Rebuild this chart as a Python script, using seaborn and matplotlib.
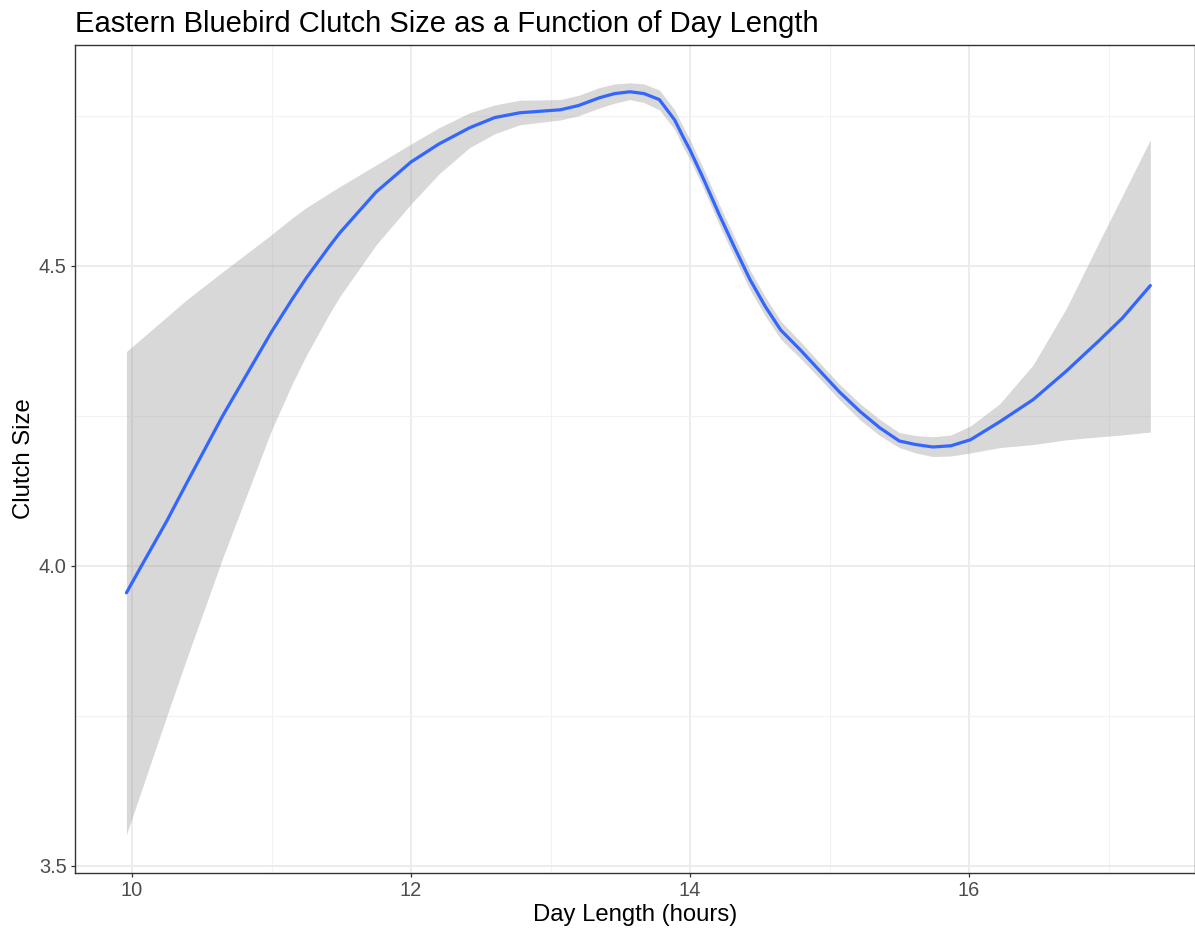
import matplotlib
matplotlib.use("Agg")
import matplotlib.pyplot as plt
import seaborn as sns
import pandas as pd
from matplotlib.ticker import MultipleLocator

# Data (loess fit with confidence band)
day_length = [9.96, 10.08, 10.25, 10.39, 10.65, 11.0, 11.15, 11.25, 11.42, 11.49,
              11.75, 12.0, 12.2, 12.42, 12.6, 12.78, 13.07, 13.2, 13.35, 13.46,
              13.57, 13.67, 13.78, 13.89, 13.95, 14.0, 14.1, 14.21, 14.32, 14.43,
              14.54, 14.65, 14.79, 14.93, 15.07, 15.22, 15.36, 15.5, 15.62, 15.74,
              15.87, 16.01, 16.22, 16.46, 16.7, 16.94, 17.1, 17.3]
clutch_fit = [3.955, 4.005, 4.075, 4.137, 4.25, 4.39, 4.445, 4.48, 4.534, 4.555,
              4.623, 4.673, 4.703, 4.73, 4.747, 4.755, 4.76, 4.767, 4.78, 4.787,
              4.79, 4.787, 4.777, 4.743, 4.715, 4.693, 4.643, 4.585, 4.53, 4.477,
              4.432, 4.393, 4.36, 4.325, 4.29, 4.257, 4.23, 4.208, 4.202, 4.198,
              4.2, 4.21, 4.24, 4.277, 4.325, 4.377, 4.413, 4.467]
ci_upper = [4.357, 4.381, 4.415, 4.443, 4.49, 4.552, 4.58, 4.597, 4.622, 4.632,
            4.668, 4.703, 4.73, 4.755, 4.768, 4.776, 4.777, 4.784, 4.797, 4.803,
            4.805, 4.803, 4.793, 4.76, 4.732, 4.71, 4.66, 4.602, 4.547, 4.493,
            4.448, 4.408, 4.374, 4.338, 4.303, 4.27, 4.244, 4.222, 4.217, 4.215,
            4.218, 4.233, 4.27, 4.335, 4.43, 4.543, 4.617, 4.71]
ci_lower = [3.552, 3.634, 3.75, 3.844, 4.013, 4.226, 4.304, 4.351, 4.422, 4.449,
            4.535, 4.603, 4.653, 4.697, 4.72, 4.735, 4.743, 4.75, 4.763, 4.771,
            4.777, 4.772, 4.76, 4.727, 4.698, 4.677, 4.627, 4.568, 4.513, 4.46,
            4.416, 4.378, 4.346, 4.312, 4.277, 4.243, 4.217, 4.197, 4.188, 4.182,
            4.183, 4.188, 4.197, 4.202, 4.21, 4.215, 4.218, 4.223]

df = pd.DataFrame({"day": day_length, "fit": clutch_fit,
                   "lo": ci_lower, "hi": ci_upper})

sns.set_theme(style="white")
plt.rcParams["font.family"] = ["Liberation Sans", "DejaVu Sans"]

fig = plt.figure(figsize=(11.95, 9.33), dpi=100)
ax = fig.add_axes([0.0625, 0.0643, 0.9375, 0.8875])

ax.fill_between(df["day"], df["lo"], df["hi"], color="#999999", alpha=0.38,
                linewidth=0, zorder=2)
sns.lineplot(data=df, x="day", y="fit", ax=ax, color="#3366FF", linewidth=2.3,
             zorder=3)

ax.set_xlim(9.589, 17.62)
ax.set_ylim(3.488, 4.868)
ax.xaxis.set_major_locator(MultipleLocator(2))
ax.xaxis.set_minor_locator(MultipleLocator(1))
ax.yaxis.set_major_locator(MultipleLocator(0.5))
ax.yaxis.set_minor_locator(MultipleLocator(0.25))
ax.set_yticks([3.5, 4.0, 4.5])
ax.set_yticklabels(["3.5", "4.0", "4.5"])

ax.grid(which="major", color="#EBEBEB", linewidth=1.3, zorder=0)
ax.grid(which="minor", color="#F2F2F2", linewidth=0.8, zorder=0)
ax.set_axisbelow(True)

for s in ax.spines.values():
    s.set_color("#333333")
    s.set_linewidth(1.0)
    s.set_visible(True)

ax.tick_params(axis="both", which="major", length=3, width=0.9, color="#333333",
               labelsize=14.4, labelcolor="#4D4D4D", pad=2.7, direction="out",
               bottom=True, left=True)
ax.tick_params(axis="both", which="minor", length=0)

ax.set_xlabel("Day Length (hours)", fontsize=17.2, color="black", labelpad=3)
ax.set_ylabel("Clutch Size", fontsize=17.2, color="black", labelpad=3)
ax.set_title("Eastern Bluebird Clutch Size as a Function of Day Length",
             fontsize=21, loc="left", color="black", pad=9.4)

fig.savefig("out.png", dpi=100)
